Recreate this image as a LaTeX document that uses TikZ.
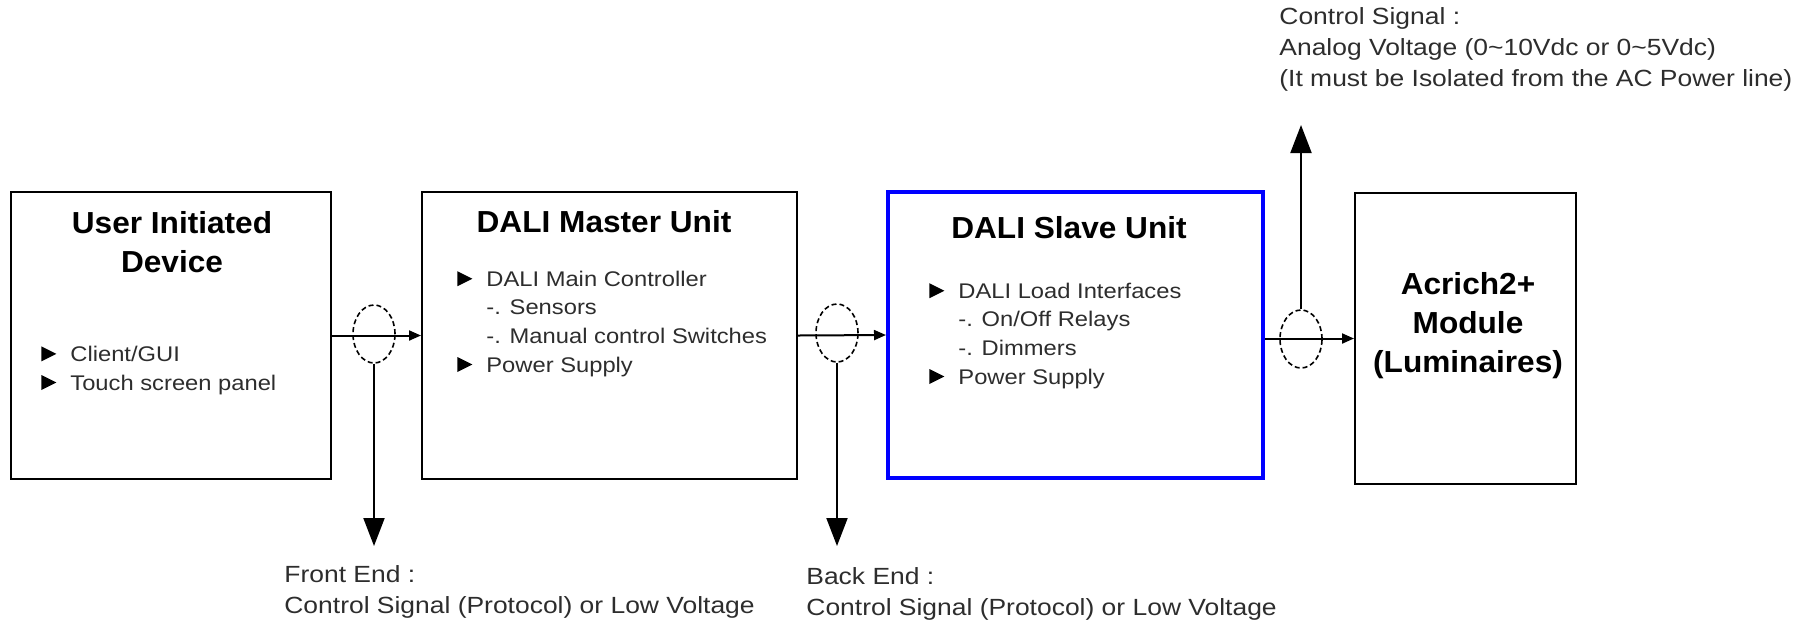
\documentclass[tikz,border=0pt]{standalone}
\usepackage{fontspec}
\setmainfont{Liberation Sans}
\newfontfamily\itemfont{Liberation Sans}[FakeStretch=1.12]
\newfontfamily\notefont{Liberation Sans}[FakeStretch=1.13]
\newfontfamily\headfont{Liberation Sans}[FakeStretch=1.04]
\usepackage{xcolor}
\usetikzlibrary{shapes,arrows.meta,positioning,calc}

\definecolor{slaveblue}{RGB}{0,0,255}
\definecolor{txtgray}{RGB}{45,45,45}

\newcommand{\bul}{\makebox[14.5pt][l]{\tikz[x=1pt,y=1pt]\fill[black] (0,0) -- (0,7.5) -- (7.5,3.75) -- cycle;}}
\newcommand{\subind}{\hspace*{14.5pt}}

\begin{document}
\begin{tikzpicture}[
    x=0.5pt, y=-0.5pt,
    unit/.style={rectangle, draw, line width=1pt, inner sep=0pt},
    title/.style={font=\headfont\fontsize{15.2}{19.5}\selectfont\bfseries, align=center, anchor=base, inner sep=0pt},
    items/.style={font=\itemfont\fontsize{10.6}{14.3}\selectfont, text=txtgray, align=left, anchor=base west, inner sep=0pt},
    note/.style={font=\notefont\fontsize{11.7}{15.3}\selectfont, text=txtgray, align=left, anchor=base west, inner sep=0pt},
    ring/.style={ellipse, draw, line width=0.8pt, dash pattern=on 2.5pt off 1.5pt, minimum width=21pt, minimum height=29pt, inner sep=0pt},
    link/.style={-{Triangle[length=6pt,width=5pt]}, line width=1pt},
    tap/.style={-{Triangle[length=14pt,width=10.5pt]}, line width=1pt}
]
\useasboundingbox (0,0) rectangle (1804,623);

% Units
\node[unit, minimum width=160pt, minimum height=143.5pt] (user) at (171,335.5) {};
\node[unit, minimum width=187.5pt, minimum height=143.5pt] (master) at (609.5,335.5) {};
\node[unit, draw=slaveblue, line width=2pt, minimum width=187.5pt, minimum height=143pt] (slave) at (1075.5,335) {};
\node[unit, minimum width=110.5pt, minimum height=145.5pt] (module) at (1465.5,338.5) {};

% Titles (base = last line)
\node[title] (userT) at (172,272) {User Initiated\\Device};
\node[title] (masterT) at (604,232) {DALI Master Unit};
\node[title] (slaveT) at (1069,238) {DALI Slave Unit};
\node[title] (moduleT) at (1468,372) {Acrich2+\\Module\\(Luminaires)};

% Contents
\node[items] (userL) at (41,390) {\bul Client/GUI\\\bul Touch screen panel};
\node[items] (masterL) at (457,372) {\bul DALI Main Controller\\\subind-. Sensors\\\subind-. Manual control Switches\\\bul Power Supply};
\node[items] (slaveL) at (929,384) {\bul DALI Load Interfaces\\\subind-. On/Off Relays\\\subind-. Dimmers\\\bul Power Supply};

% Links
\draw[link] (user.east) -- (master.west);
\draw[link] (master.east) -- (slave.west);
\draw[link] (slave.east |- module.west) -- (module.west);

% Signal rings
\node[ring] (ring1) at (374,334) {};
\node[ring] (ring2) at (837,333) {};
\node[ring] (ring3) at (1301,339) {};

% Taps
\coordinate (frontEnd) at (374,546);
\coordinate (backEnd) at (837,546);
\coordinate (ctrlOut) at (1301,125);
\draw[tap] (ring1.south) -- (frontEnd);
\draw[tap] (ring2.south) -- (backEnd);
\draw[tap] (ring3.north) -- (ctrlOut);

% Notes
\node[note] (frontN) at (284,613) {Front End :\\Control Signal (Protocol) or Low Voltage};
\node[note] (backN) at (806,615) {Back End :\\Control Signal (Protocol) or Low Voltage};
\node[note] (ctrlN) at (1279,86) {Control Signal :\\Analog Voltage (0\textasciitilde10Vdc or 0\textasciitilde5Vdc)\\(It must be Isolated from the AC Power line)};

\end{tikzpicture}
\end{document}
